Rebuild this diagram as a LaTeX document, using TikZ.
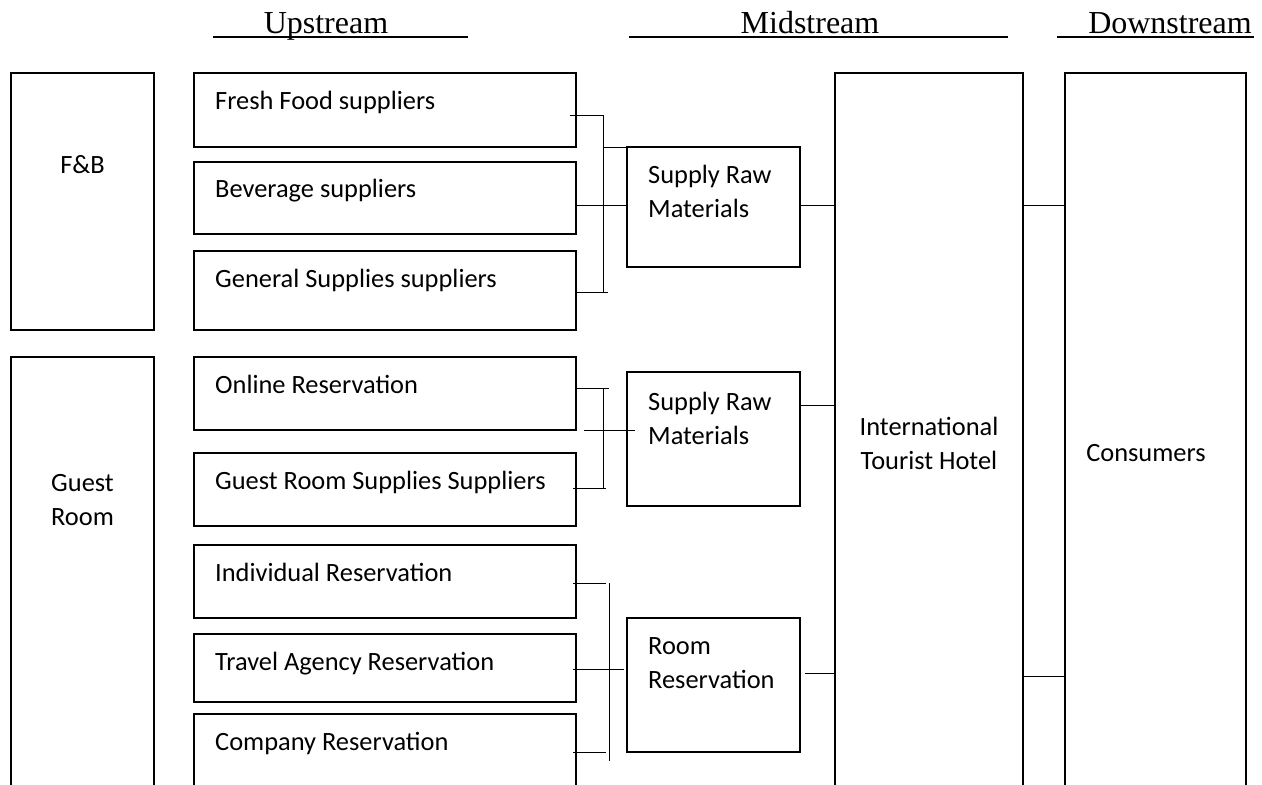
\documentclass[tikz,border=0pt]{standalone}
\usepackage{fontspec}
\setmainfont{Liberation Serif}
\newfontfamily\carl{Carlito}
\usetikzlibrary{calc}
\begin{document}
\begin{tikzpicture}[x=1pt,y=-1pt,
  box/.style={draw, line width=1.3pt, anchor=north west, inner sep=0pt, outer sep=0pt},
  lbl/.style={inner sep=0pt, font=\carl\fontsize{26.4}{34}\selectfont},
  hdr/.style={inner sep=0pt, anchor=base, font=\fontsize{32}{38}\selectfont},
  link/.style={line width=1pt},
  uline/.style={line width=1.6pt}]
\useasboundingbox (0,0) rectangle (1262,785);
\clip (0,0) rectangle (1262,785);

% headers
\node[hdr] (hup) at (326,33) {Upstream};
\node[hdr] (hmid) at (810,33) {Midstream};
\node[hdr] (hdown) at (1170,33) {Downstream};
\draw[uline] (213,37) -- (468,37);
\draw[uline] (629,37) -- (1008,37);
\draw[uline] (1057,37) -- (1254,37);

% left category boxes
\node[box, minimum width=143pt, minimum height=257pt] (fb) at (11,73) {};
\node[box, minimum width=143pt, minimum height=460pt] (gr) at (11,357) {};
\node[lbl, anchor=base] (fbT) at ($(fb.north)+(0,100)$) {F\&B};
\node[lbl, anchor=north, align=center] (grT) at ($(gr.north)+(0,98)$) {\rule{0pt}{36pt}Guest\\Room};

% upstream boxes
\node[box, minimum width=382pt, minimum height=74pt] (ff) at (194,73) {};
\node[box, minimum width=382pt, minimum height=72pt] (bv) at (194,162) {};
\node[box, minimum width=382pt, minimum height=79pt] (gs) at (194,251) {};
\node[box, minimum width=382pt, minimum height=73pt] (on) at (194,357) {};
\node[box, minimum width=382pt, minimum height=73pt] (gsup) at (194,453) {};
\node[box, minimum width=382pt, minimum height=73pt] (ind) at (194,545) {};
\node[box, minimum width=382pt, minimum height=68pt] (ta) at (194,634) {};
\node[box, minimum width=382pt, minimum height=100pt] (co) at (194,714) {};
\node[lbl, anchor=base west] (ffT) at ($(ff.north west)+(21,36)$) {Fresh Food suppliers};
\node[lbl, anchor=base west] (bvT) at ($(bv.north west)+(21,35)$) {Beverage suppliers};
\node[lbl, anchor=base west] (gsT) at ($(gs.north west)+(21,36)$) {General Supplies suppliers};
\node[lbl, anchor=base west] (onT) at ($(on.north west)+(21,36)$) {Online Reservation};
\node[lbl, anchor=base west] (gsupT) at ($(gsup.north west)+(21,36)$) {Guest Room Supplies Suppliers};
\node[lbl, anchor=base west] (indT) at ($(ind.north west)+(21,36)$) {Individual Reservation};
\node[lbl, anchor=base west] (taT) at ($(ta.north west)+(21,36)$) {Travel Agency Reservation};
\node[lbl, anchor=base west] (coT) at ($(co.north west)+(21,36)$) {Company Reservation};

% midstream boxes
\node[box, minimum width=173pt, minimum height=120pt] (raw1) at (627,147) {};
\node[box, minimum width=173pt, minimum height=134pt] (raw2) at (627,372) {};
\node[box, minimum width=173pt, minimum height=134pt] (rr) at (627,618) {};
\node[lbl, anchor=north west, align=left] (raw1T) at ($(raw1.north west)+(21,0)$) {\rule{0pt}{36pt}Supply Raw\\Materials};
\node[lbl, anchor=north west, align=left] (raw2T) at ($(raw2.north west)+(21,2)$) {\rule{0pt}{36pt}Supply Raw\\Materials};
\node[lbl, anchor=north west, align=left] (rrT) at ($(rr.north west)+(21,0)$) {\rule{0pt}{36pt}Room\\Reservation};

% hotel and consumers
\node[box, minimum width=188pt, minimum height=760pt] (hotel) at (835,73) {};
\node[box, minimum width=181pt, minimum height=760pt] (cons) at (1065,73) {};
\node[lbl, anchor=north, align=center] (hotelT) at (929,399) {\rule{0pt}{36pt}International\\Tourist Hotel};
\node[lbl, anchor=base] (consT) at (1146,461) {Consumers};

% bracket 1 (F&B suppliers)
\coordinate (k1a) at (603,115);
\coordinate (k1b) at (603,292);
\draw[link] (k1a) -- (k1b);
\draw[link] ($(ff.north east)+(-6,42)$) -- (k1a);
\draw[link] (raw1.north west -| k1a) -- (raw1.north west);
\draw[link] ($(bv.north east)+(0,43)$) -- ($(raw1.north west)+(0,58)$);
\draw[link] ($(gs.north east)+(1,41)$) -- ($(k1b)+(5,0)$);

% bracket 2 (guest room suppliers)
\coordinate (k2a) at (603,388);
\coordinate (k2b) at (603,488);
\draw[link] (k2a) -- (k2b);
\draw[link] ($(on.north east)+(0,31)$) -- ($(k2a)+(6,0)$);
\draw[link] ($(on.south east)+(8,0)$) -- ($(raw2.north west)+(8,58)$);
\draw[link] ($(gsup.north east)+(-3,35)$) -- ($(k2b)+(3,0)$);

% bracket 3 (reservations)
\coordinate (k3a) at (609,583);
\coordinate (k3b) at (609,761);
\draw[link] (k3a) -- (k3b);
\draw[link] ($(ind.north east)+(-3,38)$) -- ($(k3a)+(-3,0)$);
\draw[link] ($(ta.north east)+(-3,35)$) -- ($(rr.north west)+(-3,51)$);
\draw[link] ($(co.north east)+(-3,38)$) -- ($(k3a)+(-3,169)$);

% midstream to hotel
\draw[link] ($(raw1.north east)+(0,58)$) -- ($(raw1.north east -| hotel.west)+(0,58)$);
\draw[link] ($(raw2.north east)+(0,33)$) -- ($(raw2.north east -| hotel.west)+(0,33)$);
\draw[link] ($(rr.north east)+(5,55)$) -- ($(rr.north east -| hotel.west)+(0,55)$);

% hotel to consumers
\draw[link] ($(hotel.north east)+(0,132)$) -- ($(cons.north west)+(0,132)$);
\draw[link] ($(hotel.north east)+(0,603)$) -- ($(cons.north west)+(0,603)$);
\end{tikzpicture}
\end{document}
